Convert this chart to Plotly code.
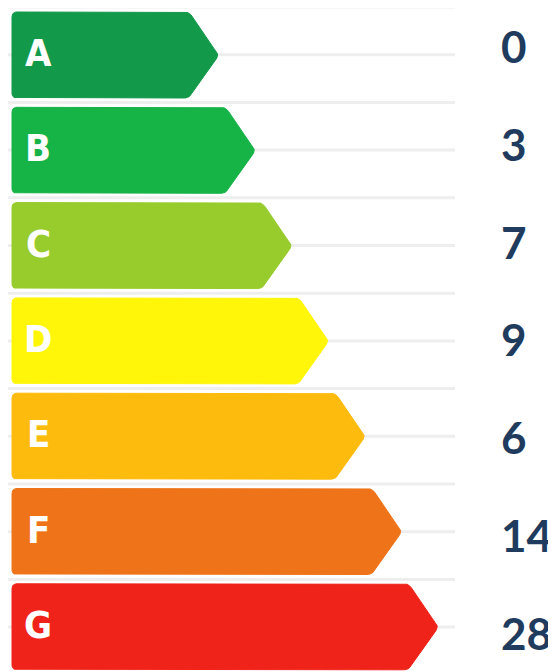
import math
import plotly.graph_objects as go

# ---- data ----
categories = ["A", "B", "C", "D", "E", "F", "G"]
values = [0, 3, 7, 9, 6, 14, 28]
colors = ["#13994a", "#16b347", "#97cc2c", "#fff60a", "#fdbb0e", "#ef7419", "#f0231a"]

W, H = 556, 671
PAGE_MARGIN = 8  # default body margin of the html page

# ---- geometry (layout constants) ----
row_top0 = 12
row_pitch = 95.3
row_height = 86
left_x = 12
tip0 = 219
tip_step = 36.6
tip_depth = 30
radius = 5

label_x = 499
label_y0 = 46
label_pitch = 97.8

grid_y0 = 7
grid_pitch = 47.7
grid_right = 455


def rounded_polygon(pts, r, n=6):
    """Return a closed polygon with rounded corners."""
    out = []
    m = len(pts)
    for i in range(m):
        p0 = pts[i - 1]
        p1 = pts[i]
        p2 = pts[(i + 1) % m]
        v1 = (p0[0] - p1[0], p0[1] - p1[1])
        v2 = (p2[0] - p1[0], p2[1] - p1[1])
        l1 = math.hypot(*v1)
        l2 = math.hypot(*v2)
        u1 = (v1[0] / l1, v1[1] / l1)
        u2 = (v2[0] / l2, v2[1] / l2)
        a = (p1[0] + u1[0] * r, p1[1] + u1[1] * r)
        b = (p1[0] + u2[0] * r, p1[1] + u2[1] * r)
        for k in range(n + 1):
            t = k / n
            x = (1 - t) ** 2 * a[0] + 2 * (1 - t) * t * p1[0] + t ** 2 * b[0]
            y = (1 - t) ** 2 * a[1] + 2 * (1 - t) * t * p1[1] + t ** 2 * b[1]
            out.append((x, y))
    out.append(out[0])
    return out


fig = go.Figure()

shapes = []
k = 0
while grid_y0 + grid_pitch * k < H:
    y = grid_y0 + grid_pitch * k
    shapes.append(dict(type="line", xref="x", yref="y", x0=PAGE_MARGIN, x1=grid_right,
                       y0=y, y1=y, line=dict(color="#eeeeee", width=3), layer="below"))
    k += 1

annotations = []
for i, (cat, val, col) in enumerate(zip(categories, values, colors)):
    top = row_top0 + row_pitch * i
    bot = top + row_height
    mid = (top + bot) / 2
    tip = tip0 + tip_step * i
    body = tip - tip_depth
    pts = [(left_x, top), (body, top), (tip, mid), (body, bot), (left_x, bot)]
    poly = rounded_polygon(pts, radius)
    fig.add_trace(go.Scatter(
        x=[p[0] for p in poly], y=[p[1] for p in poly],
        fill="toself", fillcolor=col, mode="lines",
        line=dict(color=col, width=1), hoverinfo="skip", showlegend=False,
    ))
    annotations.append(dict(
        x=38, y=mid - 2, xref="x", yref="y",
        text="<span style=\"font-stretch:condensed\"><b>%s</b></span>" % cat,
        showarrow=False, xanchor="center", yanchor="middle",
        font=dict(family="Liberation Sans Narrow, DejaVu Sans Condensed, sans-serif",
                  size=38, color="white"),
    ))
    annotations.append(dict(
        x=label_x, y=label_y0 + label_pitch * i, xref="x", yref="y",
        text="<b>%d</b>" % val, showarrow=False,
        xanchor="left", yanchor="middle",
        font=dict(family="Lato, Open Sans, sans-serif", size=44, color="#1f3b5e"),
    ))

fig.update_layout(
    width=W - PAGE_MARGIN, height=H - PAGE_MARGIN,
    margin=dict(l=0, r=0, t=0, b=0),
    paper_bgcolor="white", plot_bgcolor="white",
    xaxis=dict(range=[PAGE_MARGIN, W], visible=False, fixedrange=True),
    yaxis=dict(range=[H, PAGE_MARGIN], visible=False, fixedrange=True),
    shapes=shapes, annotations=annotations,
    showlegend=False,
)

fig.write_html("out.html", config={"displayModeBar": False})
